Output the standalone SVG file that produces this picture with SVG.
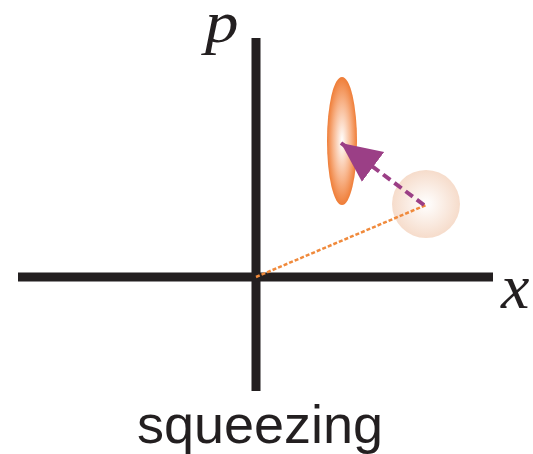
<svg xmlns="http://www.w3.org/2000/svg" width="533" height="454" viewBox="0 0 533 454">
<defs>
<radialGradient id="gE" cx="0.5" cy="0.5" r="0.5">
<stop offset="0" stop-color="#ffffff"/>
<stop offset="0.6" stop-color="#f8b48a"/>
<stop offset="1" stop-color="#ef7d37"/>
</radialGradient>
<radialGradient id="gC" cx="0.5" cy="0.5" r="0.5">
<stop offset="0" stop-color="#ffffff"/>
<stop offset="1" stop-color="#f6dccb"/>
</radialGradient>
<marker id="ah" markerUnits="userSpaceOnUse" markerWidth="40" markerHeight="40" refX="28" refY="13" orient="auto" viewBox="0 0 28 26">
<path d="M0,0 L28,13 L0,26 Z" fill="#9b3f86"/>
</marker>
<style>
.axis{stroke:#231f20;stroke-width:9;fill:none}
.lbl{font-family:"Liberation Serif",serif;font-style:italic;fill:#231f20}
.cap{font-family:"Liberation Sans",Arial,sans-serif;font-size:54px;fill:#231f20}
</style>
</defs>
<g id="axes">
<line class="axis" x1="256" y1="38" x2="256" y2="391"/>
<line class="axis" x1="18" y1="277" x2="493" y2="277"/>
</g>
<g id="p-label"><text class="lbl" x="205" y="42" font-size="60" transform="translate(205 42) scale(1.12 1) translate(-205 -42)">p</text></g>
<g id="x-label"><text class="lbl" x="501" y="308" font-size="64">x</text></g>
<g id="coherent"><circle cx="426" cy="204" r="34" fill="url(#gC)"/></g>
<g id="squeezed"><ellipse cx="342" cy="141" rx="15" ry="64" fill="url(#gE)"/></g>
<g id="connectors">
<line x1="256" y1="277" x2="426" y2="205" stroke="#f08a3c" stroke-width="2.5" stroke-dasharray="4,2"/>
<line x1="424" y1="205" x2="341" y2="143" stroke="#9b3f86" stroke-width="4" stroke-dasharray="9,5" marker-end="url(#ah)"/>
</g>
<g id="caption"><text class="cap" x="260" y="443" text-anchor="middle">squeezing</text></g>
</svg>
